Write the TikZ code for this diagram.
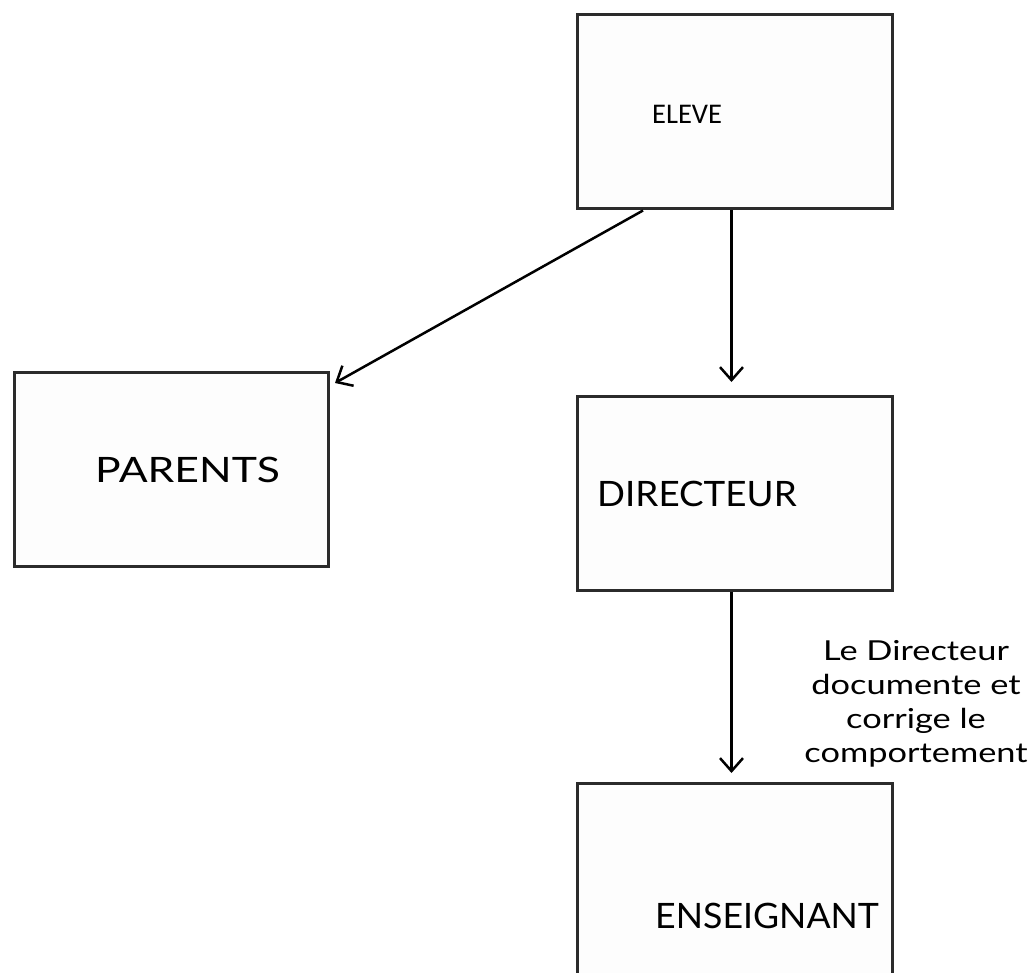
\documentclass[tikz,border=0pt]{standalone}
\usepackage{fontspec}
\usepackage{graphicx}
\setmainfont{Lato}
\newfontfamily\calfont{Carlito}
\newfontfamily\notefont[FakeStretch=1.25]{Lato}
\usetikzlibrary{arrows.meta,calc}
\definecolor{boxline}{HTML}{2B2B2B}
\definecolor{boxfill}{HTML}{FDFDFD}
\tikzset{
  box/.style={draw=boxline, line width=3pt, fill=boxfill, anchor=north west,
    minimum width=315pt, minimum height=194pt, inner sep=0pt},
  boxtext/.style={anchor=base west, inner sep=0pt, font=\fontsize{35}{40}\selectfont},
  arr/.style={line width=2.5pt, -{Straight Barb[length=13pt,width=23pt]}},
  note/.style={align=center, inner sep=0pt, font=\notefont\fontsize{27.5}{34}\selectfont}
}
\begin{document}
\begin{tikzpicture}[x=1pt,y=-1pt]
\clip (0,0) rectangle (1035,973);
\fill[white] (0,0) rectangle (1035,973);
\node[box] (eleve) at (575.5,13.5) {};
\node[box,minimum width=314pt] (parents) at (12.5,370.5) {};
\node[box] (directeur) at (575.5,394.5) {};
\node[box,minimum height=260pt] (enseignant) at (575.5,781.5) {};
\node[boxtext,font=\calfont\fontsize{28.5}{32}\selectfont] (eleveT) at (652,124) {ELEVE};
\node[boxtext] (parentsT) at (95,482) {\scalebox{1.22}[1]{PARENTS}};
\node[boxtext] (directeurT) at (597,506) {\scalebox{1.05}[1]{DIRECTEUR}};
\node[boxtext] (enseignantT) at (655,928) {\scalebox{1.02}[1]{ENSEIGNANT}};
\draw[arr] ($(eleve.south west)+(67.5,0)$) -- ($(parents.north east)+(5.5,12.5)$);
\draw[arr] ($(eleve.south)+(-3,0)$) -- ($(directeur.north)+(-3,-12.5)$);
\draw[arr] ($(directeur.south)+(-3,0)$) -- ($(enseignant.north)+(-3,-8.5)$);
\node[note,anchor=base] (lbl) at (916,762) {Le Directeur\\documente et\\corrige le\\comportement};
\end{tikzpicture}
\end{document}
